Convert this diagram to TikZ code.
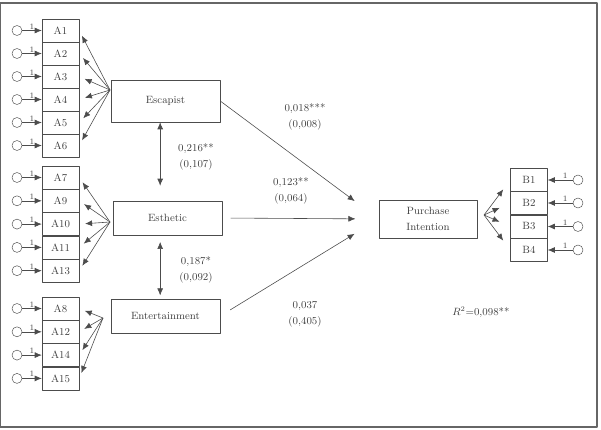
\documentclass[tikz,border=0pt]{standalone}
\usepackage{tikz}
\usetikzlibrary{arrows.meta,positioning}

\begin{document}
\begin{tikzpicture}[x=0.03cm,y=-0.03cm,line join=round,
  ind/.style={draw=black!70,minimum width=1.11cm,minimum height=0.69cm,inner sep=0pt,font=\small,text=black!75},
  lat/.style={draw=black!70,minimum width=3.27cm,inner sep=0pt,font=\small,text=black!75},
  err/.style={circle,draw=black!70,minimum size=0.3cm,inner sep=0pt},
  pth/.style={draw=black!70,line width=0.5pt,-{Latex[length=6pt,width=5pt]}},
  dbl/.style={draw=black!70,line width=0.5pt,{Latex[length=6pt,width=5pt]}-{Latex[length=6pt,width=5pt]}},
  lab/.style={font=\small,text=black!75,align=center},
  one/.style={font=\scriptsize,inner sep=1pt,text=black!75}]
\useasboundingbox (0,0) rectangle (601,429);
\draw[black!60,line width=1.2pt] (0,3) rectangle (597,427);
% latent variables
\node[lat,minimum height=1.26cm] (esc) at (165.5,101) {Escapist};
\node[lat,minimum height=1.02cm] (est) at (167.5,218) {Esthetic};
\node[lat,minimum height=1.02cm] (ent) at (165.5,316) {Entertainment};
\node[draw=black!70,minimum width=2.94cm,minimum height=1.14cm,inner sep=0pt,font=\small,text=black!75,align=center] (pur) at (428,219) {Purchase\\[2pt]Intention};
% fan origins
\coordinate (escf) at (110,90);
\coordinate (estf) at (110,222);
\coordinate (entf) at (103,318);
\coordinate (purf) at (484,215);
% indicators with error terms
\foreach \n/\yy/\f in {1/30.5/escf,2/53.5/escf,3/76.5/escf,4/99.5/escf,5/122.5/escf,6/145.5/escf,
  7/177.5/estf,9/200.8/estf,10/224.1/estf,11/247.4/estf,13/270.7/estf,
  8/308.5/entf,12/331.8/entf,14/355.1/entf,15/378.4/entf}{
  \node[ind] (a\n) at (60.5,\yy) {A\n};
  \node[err] (ea\n) at (17,\yy) {};
  \draw[pth] (ea\n) -- node[one,above,pos=0.5] {1} (a\n);
  \draw[pth,shorten >=5pt] (\f) -- (a\n.east);
}
\foreach \n/\yy in {1/180,2/203,3/226.5,4/250}{
  \node[ind] (b\n) at (529,\yy) {B\n};
  \node[err] (eb\n) at (578,\yy) {};
  \draw[pth] (eb\n) -- node[one,above,pos=0.3] {1} (b\n);
  \draw[pth,shorten >=10pt] (purf) -- (b\n.west);
}
% correlations
\draw[dbl] ([xshift=-0.16cm]esc.south) -- ([xshift=-0.22cm,yshift=0.45cm]est.north);
\draw[dbl] ([xshift=-0.22cm,yshift=-0.2cm]est.south) -- ([xshift=-0.16cm,yshift=0.1cm]ent.north);
\node[lab] (c1) at (196,157) {0,216**\\[3pt](0,107)};
\node[lab] (c2) at (196,270) {0,187*\\[3pt](0,092)};
% structural paths
\draw[pth,shorten >=0.9cm] (esc.east) -- (pur.west);
\draw[pth,shorten <=0.25cm,shorten >=0.7cm] (est.east) -- (pur.west);
\draw[pth,shorten <=0.35cm,shorten >=0.85cm] (ent.east) -- (pur.west);
\node[lab] (p1) at (305,117) {0,018***\\[3pt](0,008)};
\node[lab] (p2) at (291,191) {0,123**\\[3pt](0,064)};
\node[lab] (p3) at (305,314) {0,037\\[3pt](0,405)};
\node[lab] (r2) at (481,312) {$R^2$=0,098**};
\end{tikzpicture}
\end{document}
